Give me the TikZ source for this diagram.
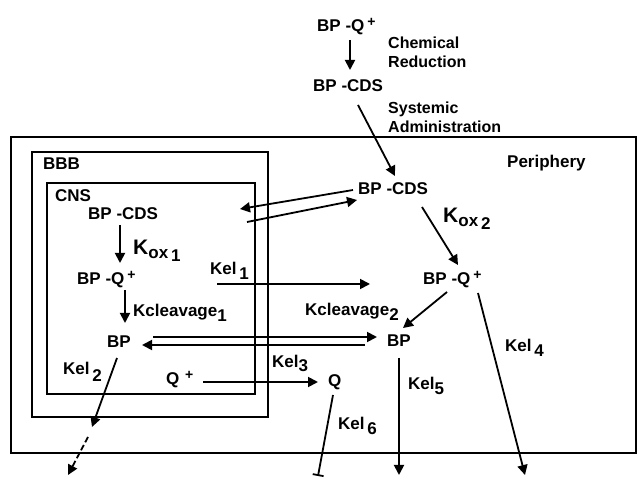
\documentclass[tikz,border=0pt]{standalone}
\usepackage{fontspec}
\setmainfont{Liberation Sans}
\usetikzlibrary{arrows.meta}
\newcommand{\lsub}[1]{\raisebox{-5pt}{#1}}
\newcommand{\qplus}{\,\raisebox{5pt}{\fontsize{14}{14}\selectfont +}}
\newcommand{\kox}[1]{{\fontsize{21}{21}\selectfont K}\raisebox{-4pt}{ox}\,\raisebox{-7pt}{#1}}
\begin{document}
\begin{tikzpicture}[x=1pt,y=-1pt,
  txt/.style={inner sep=0pt, font=\bfseries\fontsize{17}{20}\selectfont, anchor=base west},
  lbl/.style={inner sep=0pt, font=\bfseries\fontsize{16}{19}\selectfont, align=left, anchor=north west},
  arr/.style={line width=1.8pt, -{Triangle[length=10pt,width=10pt]}},
  box/.style={line width=1.8pt}]
\useasboundingbox (0,0) rectangle (638,478);

% compartments
\draw[box] (11,137) rectangle (636,453);
\draw[box] (32,152) rectangle (268,417);
\draw[box] (47,183) rectangle (255,394);

% texts
\node[txt] (q0) at (317,32) {BP -Q\qplus};
\node[lbl] (chem) at (388,37) {Chemical\\Reduction};
\node[txt] (cds0) at (313,92) {BP -CDS};
\node[lbl] (sys) at (388,102) {Systemic\\Administration};
\node[txt] (per) at (507,168) {Periphery};
\node[txt] (bbb) at (43,170) {BBB};
\node[txt] (cns) at (55,202) {CNS};
\node[txt] (cds1) at (88,220) {BP -CDS};
\node[txt] (kox1) at (133,255) {\kox{1}};
\node[txt] (q1) at (77,285) {BP -Q\qplus};
\node[txt] (kcl1) at (133,317) {Kcleavage\lsub{1}};
\node[txt] (kel1) at (210,275) {Kel\,\lsub{1}};
\node[txt] (cds2) at (358,195) {BP -CDS};
\node[txt] (kox2) at (443,223) {\kox{2}};
\node[txt] (q2) at (423,285) {BP -Q\qplus};
\node[txt] (kcl2) at (305,316) {Kcleavage\lsub{2}};
\node[txt] (bp1) at (107,348) {BP};
\node[txt] (bp2) at (387,347) {BP};
\node[txt] (kel2) at (63,375) {Kel\,\raisebox{-7pt}{2}};
\node[txt] (qp) at (166,385) {Q\,\qplus};
\node[txt] (kel3) at (272,368) {Kel\raisebox{-4pt}{3}};
\node[txt] (qq) at (328,387) {Q};
\node[txt] (kel4) at (505,352) {Kel\,\lsub{4}};
\node[txt] (kel5) at (408,390) {Kel\lsub{5}};
\node[txt] (kel6) at (338,430) {Kel\,\lsub{6}};

% connector end points
\coordinate (a1s) at (350,40);  \coordinate (a1e) at (350,70);
\coordinate (a2s) at (358,105); \coordinate (a2e) at (395,176);
\coordinate (a3s) at (353,190); \coordinate (a3e) at (240,209);
\coordinate (a4s) at (247,222); \coordinate (a4e) at (357,200);
\coordinate (a5s) at (120,225); \coordinate (a5e) at (120,263);
\coordinate (a6s) at (125,290); \coordinate (a6e) at (125,323);
\coordinate (a7s) at (217,284); \coordinate (a7e) at (370,284);
\coordinate (a8s) at (422,207); \coordinate (a8e) at (458,265);
\coordinate (a9s) at (447,292); \coordinate (a9e) at (403,328);
\coordinate (a10s) at (478,293); \coordinate (a10e) at (525,475);
\coordinate (a11s) at (153,337); \coordinate (a11e) at (377,337);
\coordinate (a12s) at (365,345); \coordinate (a12e) at (142,345);
\coordinate (a13s) at (117,358); \coordinate (a13e) at (92,427);
\coordinate (a14s) at (88,437);  \coordinate (a14e) at (68,475);
\coordinate (a15s) at (203,382); \coordinate (a15e) at (318,382);
\coordinate (a16s) at (399,358); \coordinate (a16e) at (399,475);
\coordinate (a17s) at (333,395); \coordinate (a17e) at (318,476);

\draw[arr] (a1s) -- (a1e);
\draw[arr] (a2s) -- (a2e);
\draw[arr] (a3s) -- (a3e);
\draw[arr] (a4s) -- (a4e);
\draw[arr] (a5s) -- (a5e);
\draw[arr] (a6s) -- (a6e);
\draw[arr] (a7s) -- (a7e);
\draw[arr] (a8s) -- (a8e);
\draw[arr] (a9s) -- (a9e);
\draw[arr] (a10s) -- (a10e);
\draw[arr] (a11s) -- (a11e);
\draw[arr] (a12s) -- (a12e);
\draw[arr] (a13s) -- (a13e);
\draw[arr, dash pattern=on 6pt off 3pt] (a14s) -- (a14e);
\draw[arr] (a15s) -- (a15e);
\draw[arr] (a16s) -- (a16e);
\draw[line width=1.8pt, -{Bar[width=11pt]}] (a17s) -- (a17e);
\end{tikzpicture}
\end{document}
